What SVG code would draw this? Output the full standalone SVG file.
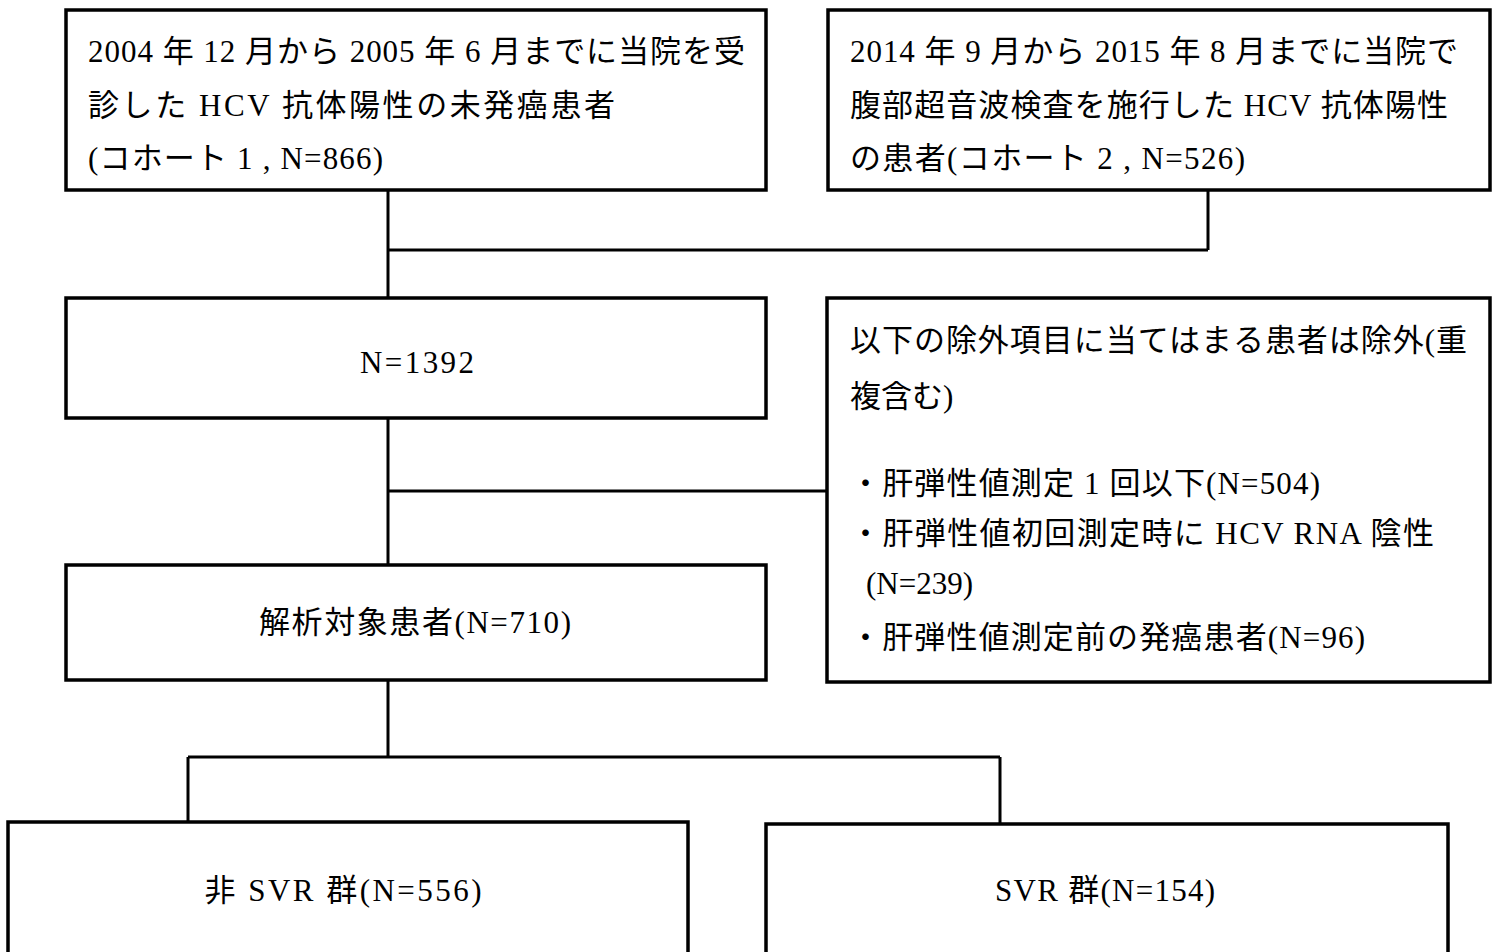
<svg xmlns="http://www.w3.org/2000/svg" width="1500" height="952" viewBox="0 0 1500 952">
<style>
.box{fill:#fff;stroke:#000;stroke-width:3.5}
.ln{stroke:#000;stroke-width:3;fill:none}
text{font-family:"Liberation Serif","Noto Sans CJK JP",serif;font-size:31px;fill:#000}
.l{font-family:"Liberation Serif",serif}
.c{text-anchor:middle}
</style>
<rect width="1500" height="952" fill="#fff"/>
<g id="connectors">
<path class="ln" d="M388 190V298M388 250H1208M1208 190V250"/>
<path class="ln" d="M388 418V565M388 491H827"/>
<path class="ln" d="M388 680V757M188 757H1000M188 757V822M1000 757V824"/>
</g>
<g id="cohort1">
<rect class="box" x="66" y="10" width="700" height="180"/>
<text x="88" y="62" textLength="657" lengthAdjust="spacing"><tspan class="l">2004 </tspan>年<tspan class="l"> 12 </tspan>月から<tspan class="l"> 2005 </tspan>年<tspan class="l"> 6 </tspan>月までに当院を受</text>
<text x="88" y="116" textLength="527" lengthAdjust="spacing">診した<tspan class="l"> HCV </tspan>抗体陽性の未発癌患者</text>
<text x="88" y="169" textLength="295" lengthAdjust="spacing"><tspan class="l">(</tspan>コホート<tspan class="l"> 1 , N=866)</tspan></text>
</g>
<g id="cohort2">
<rect class="box" x="828" y="10" width="662" height="180"/>
<text x="850" y="62" textLength="608" lengthAdjust="spacing"><tspan class="l">2014 </tspan>年<tspan class="l"> 9 </tspan>月から<tspan class="l"> 2015 </tspan>年<tspan class="l"> 8 </tspan>月までに当院で</text>
<text x="850" y="116" textLength="598" lengthAdjust="spacing">腹部超音波検査を施行した<tspan class="l"> HCV </tspan>抗体陽性</text>
<text x="850" y="169" textLength="395" lengthAdjust="spacing">の患者<tspan class="l">(</tspan>コホート<tspan class="l"> 2 , N=526)</tspan></text>
</g>
<g id="total">
<rect class="box" x="66" y="298" width="700" height="120"/>
<text class="c l" x="417" y="373" textLength="114" lengthAdjust="spacing">N=1392</text>
</g>
<g id="exclusion">
<rect class="box" x="827" y="298" width="663" height="384"/>
<text x="850" y="351" textLength="617" lengthAdjust="spacing">以下の除外項目に当てはまる患者は除外<tspan class="l">(</tspan>重</text>
<text x="850" y="407">複含む<tspan class="l">)</tspan></text>
<text x="850" y="494" textLength="470" lengthAdjust="spacing">・肝弾性値測定<tspan class="l"> 1 </tspan>回以下<tspan class="l">(N=504)</tspan></text>
<text x="850" y="544" textLength="584" lengthAdjust="spacing">・肝弾性値初回測定時に<tspan class="l"> HCV RNA </tspan>陰性</text>
<text x="866" y="594" class="l">(N=239)</text>
<text x="850" y="648" textLength="515" lengthAdjust="spacing">・肝弾性値測定前の発癌患者<tspan class="l">(N=96)</tspan></text>
</g>
<g id="analysis">
<rect class="box" x="66" y="565" width="700" height="115"/>
<text class="c" x="415" y="633" textLength="312" lengthAdjust="spacing">解析対象患者<tspan class="l">(N=710)</tspan></text>
</g>
<g id="nonsvr">
<rect class="box" x="8" y="822" width="680" height="140"/>
<text class="c" x="343" y="901" textLength="277" lengthAdjust="spacing">非<tspan class="l"> SVR </tspan>群<tspan class="l">(N=556)</tspan></text>
</g>
<g id="svr">
<rect class="box" x="766" y="824" width="682" height="140"/>
<text class="c" x="1105" y="901" textLength="220" lengthAdjust="spacing"><tspan class="l">SVR </tspan>群<tspan class="l">(N=154)</tspan></text>
</g>
</svg>
